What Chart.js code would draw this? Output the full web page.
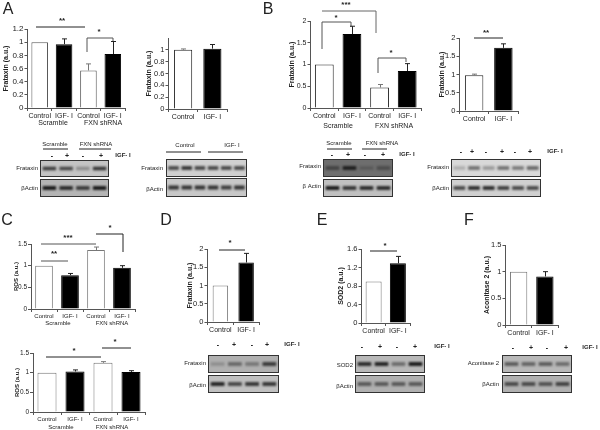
<!DOCTYPE html>
<html>
<head>
<meta charset="utf-8">
<script src="https://cdn.jsdelivr.net/npm/chart.js@4"></script>
<style>
html, body { margin: 0; padding: 0; background: #fff; }
#page { position: relative; width: 600px; height: 430px; overflow: hidden; font-family: "Liberation Sans", Arial, sans-serif; color: #222; }
#page canvas { position: absolute; }
.txt { position: absolute; white-space: nowrap; transform: translate(-50%, -50%); line-height: 1; filter: blur(0.25px); }
.blot { position: absolute; border: 1px solid #333; box-sizing: border-box; overflow: hidden; }
#marks { position: absolute; left: 0; top: 0; }
</style>
</head>
<body>
<div id="page"><svg id="marks" width="600" height="430"></svg></div>
<script>
// categories
const fourLabels = ['Control', 'IGF- I', 'Control', 'IGF- I'];
const twoLabels = ['Control', 'IGF- I'];

// bar heights and error bars, panel by panel
const a1Values = [1, 0.97, 0.57, 0.82];
const a1Errors = [0, 0.08, 0.1, 0.19];
const a2Values = [1, 1.02];
const a2Errors = [0.015, 0.07];
const b1Values = [1, 1.7, 0.47, 0.85];
const b1Errors = [0, 0.18, 0.07, 0.17];
const b2Values = [0.98, 1.73];
const b2Errors = [0.03, 0.11];
const c1Values = [1, 0.78, 1.36, 0.95];
const c1Errors = [0, 0.04, 0.07, 0.05];
const c2Values = [1, 1.03, 1.25, 1.02];
const c2Errors = [0, 0.04, 0.03, 0.03];
const dValues = [1, 1.63];
const dErrors = [0, 0.25];
const eValues = [0.9, 1.29];
const eErrors = [0, 0.15];
const fValues = [1, 0.91];
const fErrors = [0, 0.09];

// y tick labels
const ticks12 = [0, 0.2, 0.4, 0.6, 0.8, 1, 1.2];
const ticks10 = [0, 0.2, 0.4, 0.6, 0.8, 1];
const ticks20 = [0, 0.5, 1, 1.5, 2];
const ticks15 = [0, 0.5, 1, 1.5];
const ticks16 = [0, 0.4, 0.8, 1.2, 1.6];

// band darkness per lane on the blots
const aBlotFxn = [0.75, 0.7, 0.3, 0.8];
const aBlotActin = [0.95, 0.85, 0.75, 0.95];
const a2BlotFxn = [0.7, 0.8, 0.7, 0.7, 0.7, 0.7];
const a2BlotActin = [0.8, 0.8, 0.8, 0.8, 0.75, 0.8];
const bBlotFxn = [0.45, 0.85, 0.2, 0.35];
const bBlotActin = [0.95, 0.8, 0.85, 0.85];
const b2BlotFxn = [0.2, 0.5, 0.3, 0.5, 0.45, 0.55];
const b2BlotActin = [0.7, 0.85, 0.85, 0.75, 0.7, 0.7];
const dBlotFxn = [0.2, 0.45, 0.35, 0.75];
const dBlotActin = [0.9, 0.7, 0.8, 0.8];
const eBlotSod = [0.85, 0.9, 0.45, 0.95];
const eBlotActin = [0.55, 0.55, 0.55, 0.55];
const fBlotAco = [0.55, 0.5, 0.55, 0.45];
const fBlotActin = [0.65, 0.65, 0.6, 0.7];

Chart.defaults.font.family = '"Liberation Sans", Arial, sans-serif';
Chart.defaults.color = '#222';
Chart.defaults.animation = false;

const page = document.getElementById('page');

const errorBars = {
    id: 'errorBars',
    afterDatasetsDraw(chart, args, opts) {
        const { ctx, scales } = chart;
        const meta = chart.getDatasetMeta(0);
        ctx.save();
        ctx.lineWidth = 1;
        opts.errors.forEach((err, i) => {
            if (!err) return;
            const x = Math.round(meta.data[i].x) + 0.5;
            const y0 = scales.y.getPixelForValue(opts.values[i]);
            const y1 = scales.y.getPixelForValue(opts.values[i] + err);
            ctx.strokeStyle = i % 2 ? '#222' : '#777';
            ctx.beginPath();
            ctx.moveTo(x, y0);
            ctx.lineTo(x, y1);
            ctx.moveTo(x - 2.5, y1);
            ctx.lineTo(x + 2.5, y1);
            ctx.stroke();
        });
        ctx.restore();
    }
};

// one bar chart, x0..x1 / top..bottom is the plot box on the page
function barPanel(p) {
    const fs = p.fs || 7;
    const ts = p.ts || 7;
    const ml = p.x0 - (p.titleX - ts / 2);
    const mr = 12, mt = 8, mb = 20;
    const canvas = document.createElement('canvas');
    canvas.width = p.x1 - p.x0 + ml + mr;
    canvas.height = p.bottom - p.top + mt + mb;
    canvas.style.left = (p.x0 - ml) + 'px';
    canvas.style.top = (p.top - mt) + 'px';
    canvas.style.filter = 'blur(0.3px)';
    page.appendChild(canvas);
    new Chart(canvas, {
        type: 'bar',
        data: {
            labels: p.labels,
            datasets: [{
                data: p.values,
                backgroundColor: p.values.map((v, i) => i % 2 ? '#000' : '#fff'),
                borderColor: p.values.map((v, i) => i % 2 ? '#000' : (p.edge || '#555')),
                borderWidth: 1,
                barPercentage: p.barPct || 0.68,
                categoryPercentage: 1
            }]
        },
        options: {
            responsive: false,
            layout: { padding: { top: mt, right: mr, left: 0, bottom: 0 } },
            plugins: {
                legend: { display: false },
                tooltip: { enabled: false },
                errorBars: { values: p.values, errors: p.errors }
            },
            scales: {
                x: {
                    offset: true,
                    afterFit: s => { s.height = mb; },
                    grid: { drawOnChartArea: false, color: '#555', tickLength: 3 },
                    border: { color: '#555' },
                    ticks: { font: { size: fs }, maxRotation: 0, autoSkip: false, padding: 1 }
                },
                y: {
                    min: 0,
                    max: p.yMax,
                    afterFit: s => { s.width = ml; },
                    afterBuildTicks: s => { s.ticks = p.ticks.map(v => ({ value: v })); },
                    grid: { drawOnChartArea: false, color: '#555', tickLength: 3 },
                    border: { color: '#555' },
                    ticks: { font: { size: p.ys || fs }, padding: 1, callback: v => String(v) },
                    title: { display: true, text: p.title, font: { size: ts, weight: 'bold' }, padding: 0 }
                }
            }
        },
        plugins: [errorBars]
    });
}

// gel strip: each lane is a floating bar, darkness from the band array
function blot(x0, x1, top, bottom, bands, bg) {
    const box = document.createElement('div');
    box.className = 'blot';
    box.style.cssText = `left:${x0}px;top:${top}px;width:${x1 - x0}px;height:${bottom - top}px;background:${bg}`;
    page.appendChild(box);
    const canvas = document.createElement('canvas');
    canvas.width = x1 - x0 - 2;
    canvas.height = bottom - top - 2;
    canvas.style.filter = 'blur(0.9px)';
    box.appendChild(canvas);
    new Chart(canvas, {
        type: 'bar',
        data: {
            labels: bands.map((b, i) => i),
            datasets: [{
                data: bands.map(() => [0.38, 0.62]),
                backgroundColor: bands.map(b => `rgba(15,15,15,${b})`),
                barPercentage: 0.8,
                categoryPercentage: 1
            }]
        },
        options: {
            responsive: false,
            plugins: { legend: { display: false }, tooltip: { enabled: false } },
            scales: { x: { display: false }, y: { display: false, min: 0, max: 1 } }
        }
    });
}

function label(text, x, y, size, weight, color) {
    const d = document.createElement('div');
    d.className = 'txt';
    d.textContent = text;
    d.style.cssText = `left:${x}px;top:${y}px;font-size:${size}px;font-weight:${weight || 'normal'};color:${color || '#222'}`;
    page.appendChild(d);
}

function line(points, color) {
    const el = document.createElementNS('http://www.w3.org/2000/svg', 'polyline');
    el.setAttribute('points', points.map(p => p.join(',')).join(' '));
    el.setAttribute('fill', 'none');
    el.setAttribute('stroke', color || '#222');
    el.setAttribute('stroke-width', '1');
    document.getElementById('marks').appendChild(el);
}

// Panel A
barPanel({ x0: 27, x1: 125, top: 29, bottom: 108, yMax: 1.2, ticks: ticks12, labels: fourLabels, values: a1Values, errors: a1Errors, title: 'Frataxin (a.u.)', titleX: 5, ys: 8 });
barPanel({ x0: 168, x1: 227, top: 38, bottom: 109, yMax: 1.2, ticks: ticks10, labels: twoLabels, values: a2Values, errors: a2Errors, title: 'Frataxin (a.u.)', titleX: 148, barPct: 0.62, ys: 7.5, edge: '#222' });
// Panel B
barPanel({ x0: 310, x1: 421, top: 21, bottom: 108, yMax: 2, ticks: ticks20, labels: fourLabels, values: b1Values, errors: b1Errors, title: 'Frataxin (a.u.)', titleX: 291, edge: '#222' });
barPanel({ x0: 459, x1: 518, top: 38, bottom: 111, yMax: 2, ticks: ticks20, labels: twoLabels, values: b2Values, errors: b2Errors, title: 'Frataxin (a.u.)', titleX: 441, barPct: 0.63, ys: 7.5, edge: '#222' });
// Panel C
barPanel({ x0: 31, x1: 135, top: 244, bottom: 309, yMax: 1.5, ticks: ticks15, labels: fourLabels, values: c1Values, errors: c1Errors, title: 'ROS (a.u.)', titleX: 16, fs: 6, ts: 6, ys: 6.5, edge: '#777' });
barPanel({ x0: 33, x1: 145, top: 353, bottom: 412, yMax: 1.5, ticks: ticks15, labels: fourLabels, values: c2Values, errors: c2Errors, title: 'ROS (a.u.)', titleX: 17, fs: 6, ts: 6, ys: 6.5, edge: '#777' });
// Panels D, E, F
barPanel({ x0: 207, x1: 259, top: 249, bottom: 322, yMax: 2, ticks: ticks20, labels: twoLabels, values: dValues, errors: dErrors, title: 'Frataxin (a.u.)', titleX: 189, barPct: 0.6, ys: 7.5, edge: '#777' });
barPanel({ x0: 361, x1: 410, top: 249, bottom: 323, yMax: 1.6, ticks: ticks16, labels: twoLabels, values: eValues, errors: eErrors, title: 'SOD2 (a.u.)', titleX: 340, barPct: 0.66, ys: 7.5, edge: '#777' });
barPanel({ x0: 505, x1: 558, top: 245, bottom: 325, yMax: 1.5, ticks: ticks15, labels: twoLabels, values: fValues, errors: fErrors, title: 'Aconitase 2 (a.u.)', titleX: 486, barPct: 0.66, ys: 7.5, edge: '#777' });

// blots
blot(40, 109, 160, 177, aBlotFxn, '#c4c4c4');
blot(40, 109, 179, 197, aBlotActin, '#b4b4b4');
blot(166, 247, 159, 177, a2BlotFxn, '#d0d0d0');
blot(166, 247, 178, 197, a2BlotActin, '#c8c8c8');
blot(323, 393, 159, 177, bBlotFxn, '#6e6e6e');
blot(323, 393, 179, 197, bBlotActin, '#c0c0c0');
blot(451, 541, 159, 177, b2BlotFxn, '#d8d8d8');
blot(451, 541, 179, 197, b2BlotActin, '#d0d0d0');
blot(208, 279, 355, 373, dBlotFxn, '#b0b0b0');
blot(208, 279, 375, 393, dBlotActin, '#c0c0c0');
blot(355, 425, 355, 373, eBlotSod, '#b8b8b8');
blot(355, 425, 375, 393, eBlotActin, '#b0b0b0');
blot(502, 572, 355, 373, fBlotAco, '#b8b8b8');
blot(502, 572, 375, 393, fBlotActin, '#b0b0b0');

// panel letters
[['A', 8, 9], ['B', 268, 9], ['C', 7, 220], ['D', 166, 220], ['E', 322, 220], ['F', 469, 220]].forEach(l => label(l[0], l[1], l[2], 16));

// group labels under the bars
label('Scramble', 53, 122, 7);
label('FXN shRNA', 103, 122, 7);
label('Scramble', 338, 125, 7);
label('FXN shRNA', 394, 125, 7);
label('Scramble', 58, 323, 6);
label('FXN shRNA', 112, 323, 6);
label('Scramble', 61, 427, 6);
label('FXN shRNA', 112, 427, 6);

// significance brackets
line([[36, 27], [85, 27]]);
label('**', 62, 21, 8, 'bold');
line([[87, 52], [87, 38], [113, 38], [113, 41]], '#555');
label('*', 99, 32, 8, 'bold');
line([[322, 11], [376, 11], [376, 33]], '#666');
label('***', 346, 5, 8, 'bold');
line([[322, 49], [322, 22], [351, 22], [351, 27]], '#555');
label('*', 336, 18, 8, 'bold');
line([[378, 73], [378, 58], [406, 58], [406, 62]], '#555');
label('*', 391, 53, 8, 'bold');
line([[474, 38], [503, 38]]);
label('**', 486, 33, 8, 'bold');
line([[41, 261], [68, 261]], '#555');
label('**', 54, 254, 8, 'bold');
line([[41, 244], [96, 244]], '#555');
label('***', 68, 238, 8, 'bold');
line([[96, 234], [123, 234], [123, 252]]);
label('*', 110, 228, 8, 'bold');
line([[46, 357], [101, 357]]);
label('*', 74, 351, 8, 'bold');
line([[102, 348], [131, 348]]);
label('*', 115, 342, 8, 'bold');
line([[219, 250], [245, 250]]);
label('*', 230, 243, 8, 'bold');
line([[370, 251], [397, 251]]);
label('*', 385, 246, 8, 'bold');

// blot captions
function blotLabels(names, ys, right) {
    names.forEach((n, i) => {
        const d = document.createElement('div');
        d.className = 'txt';
        d.textContent = n;
        d.style.cssText = `left:${right}px;top:${ys[i]}px;font-size:6px;transform:translate(-100%,-50%)`;
        page.appendChild(d);
    });
}
function signs(xs, y, igfX) {
    xs.forEach((x, i) => label(i % 2 ? '+' : '-', x, y, 7, 'bold'));
    label('IGF- I', igfX, y, 6, 'bold');
}

blotLabels(['Frataxin', 'βActin'], [168, 188], 38);
blotLabels(['Frataxin', 'βActin'], [168, 189], 163);
blotLabels(['Frataxin', 'β Actin'], [166, 186], 321);
blotLabels(['Frataxin', 'βActin'], [167, 188], 449);
blotLabels(['Frataxin', 'βActin'], [363, 385], 206);
blotLabels(['SOD2', 'βActin'], [365, 386], 353);
blotLabels(['Aconitase 2', 'βActin'], [363, 384], 499);

signs([52, 67, 83, 101], 155, 123);
signs([332, 348, 365, 383], 154, 407);
signs([461, 472, 486, 502, 515, 530], 151, 555);
signs([218, 234, 252, 267], 344, 292);
signs([362, 380, 397, 415], 346, 442);
signs([513, 531, 547, 566], 347, 590);

label('Scramble', 55, 144, 6);
line([[43, 149], [68, 149]]);
label('FXN shRNA', 96, 144, 6);
line([[79, 149], [111, 149]]);
label('Control', 185, 145, 6);
line([[166, 152], [201, 152]]);
label('IGF- I', 232, 145, 6);
line([[208, 152], [243, 152]]);
label('Scramble', 339, 143, 6);
line([[327, 149], [352, 149]]);
label('FXN shRNA', 382, 143, 6);
line([[362, 149], [387, 149]]);
</script>
</body>
</html>
